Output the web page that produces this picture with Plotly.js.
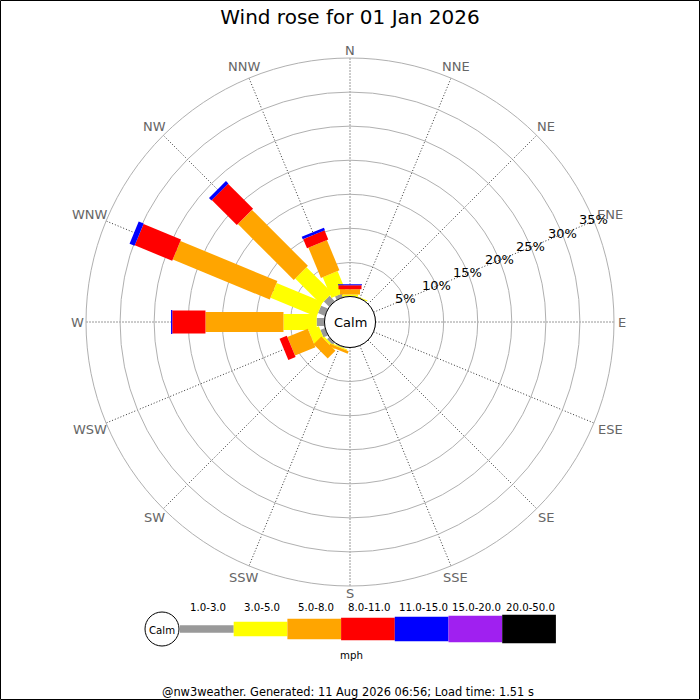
<!DOCTYPE html>
<html>
<head>
<meta charset="utf-8">
<script src="https://cdn.plot.ly/plotly-3.0.1.min.js"></script>
<style>
  html, body { margin: 0; padding: 0; background: #fff; }
  #rose { width: 700px; height: 700px; }
</style>
</head>
<body>
<div id="rose"></div>
<script>
// compass points, clockwise from north
const directions = ["N", "NNE", "NE", "ENE", "E", "ESE", "SE", "SSE",
                    "S", "SSW", "SW", "WSW", "W", "WNW", "NW", "NNW"];
const speedBins = ["1.0-3.0", "3.0-5.0", "5.0-8.0", "8.0-11.0", "11.0-15.0", "15.0-20.0", "20.0-50.0"];
const ringTicks = [5, 10, 15, 20, 25, 30, 35];
const ringLabels = ["5%", "10%", "15%", "20%", "25%", "30%", "35%"];

// % of time per direction, one array per speed bin (mph)
const pct1to3   = [0, 0, 0, 0, 0, 0, 0, 0, 0, 0.15, 0.45, 0.73, 1.14, 1.1, 1.1, 0.57];
const pct3to5   = [0.29, 0.15, 0, 0, 0, 0, 0, 0, 0, 0.15, 0.3, 1.62, 4.88, 7.3, 5.36, 3.3];
const pct5to8   = [0.76, 0, 0, 0, 0, 0, 0, 0, 0, 0.4, 1.6, 3.25, 11.45, 15.4, 11.6, 4.8];
const pct8to11  = [0.59, 0, 0, 0, 0, 0, 0, 0, 0, 0, 0, 1.15, 4.87, 5.95, 5.2, 1.45];
const pct11to15 = [0.17, 0, 0, 0, 0, 0, 0, 0, 0, 0, 0, 0, 0.18, 0.8, 0.5, 0.4];
const pct15to20 = [0, 0, 0, 0, 0, 0, 0, 0, 0, 0, 0, 0, 0, 0, 0, 0];
const pct20to50 = [0, 0, 0, 0, 0, 0, 0, 0, 0, 0, 0, 0, 0, 0, 0, 0];

const binData = [pct1to3, pct3to5, pct5to8, pct8to11, pct11to15, pct15to20, pct20to50];
const colours = ["#999999", "#ffff00", "#ffa500", "#ff0000", "#0000ff", "#a020f0", "#000000"];
const barWidths = [8, 16, 20, 23, 24, 26, 28];
const thetas = directions.map((d, i) => i * 22.5);

// stacked segments drawn as thick radial lines (constant pixel width)
const base = directions.map(() => 0);
const traces = binData.map((vals, b) => {
  const r = [], theta = [];
  vals.forEach((v, i) => {
    if (v > 0) {
      r.push(base[i], base[i] + v, null);
      theta.push(thetas[i], thetas[i], null);
    }
    base[i] += v;
  });
  return {
    type: 'scatterpolar', mode: 'lines', r: r, theta: theta,
    line: { color: colours[b], width: barWidths[b] },
    connectgaps: false, hoverinfo: 'skip', showlegend: false
  };
});

// plot area in pixels: 86..614 wide, 58..586 high
const L = 86, T = 58, S = 528;
const CX = 350, CY = 322, R = S / 2;
const px = x => (x - L) / S;
const py = y => (T + S - y) / S;
const calmR = 25.5;

function label(text, x, y, size, color) {
  return { text: text, x: px(x), y: py(y), xref: 'paper', yref: 'paper',
           xanchor: 'center', yanchor: 'middle', showarrow: false,
           font: { size: size, color: color || '#000' } };
}

const shapes = [
  { type: 'circle', xref: 'paper', yref: 'paper',
    x0: px(CX - calmR), x1: px(CX + calmR), y0: py(CY + calmR), y1: py(CY - calmR),
    line: { color: '#000', width: 1 }, fillcolor: '#fff' },
  // legend calm circle
  { type: 'circle', xref: 'paper', yref: 'paper',
    x0: px(145), x1: px(179), y0: py(646), y1: py(612),
    line: { color: '#000', width: 1 }, fillcolor: '#fff' },
  // frame
  { type: 'rect', xref: 'paper', yref: 'paper',
    x0: px(0.5), x1: px(699.5), y0: py(699.5), y1: py(0.5),
    line: { color: '#000', width: 1 } }
];
const legendHeights = [7.7, 14.3, 20.3, 22.7, 24.3, 26.3, 28.3];
const annotations = [
  label('Calm', CX, CY, 13),
  label('Calm', 162, 630, 10.2),
  label('mph', 351, 655, 10.2),
  label('@nw3weather. Generated: 11 Aug 2026 06:56; Load time: 1.51 s', 348, 692, 11.4)
];
speedBins.forEach((bin, b) => {
  const x0 = 180 + b * 53.7, x1 = x0 + 53.7, h = legendHeights[b];
  shapes.push({ type: 'rect', xref: 'paper', yref: 'paper',
    x0: px(x0), x1: px(x1), y0: py(629 + h / 2), y1: py(629 - h / 2),
    line: { width: 0 }, fillcolor: colours[b] });
  annotations.push(label(bin, (x0 + x1) / 2 + 1.5, 607, 10.2));
});

// compass labels just outside the outer ring
directions.forEach((d, i) => {
  const a = thetas[i] * Math.PI / 180;
  const sx = Math.sin(a), cy = Math.cos(a);
  const off = 267.5 + 4.6 * d.length * Math.abs(sx) + 4 * Math.abs(cy);
  annotations.push(label(d, CX + off * sx, CY - off * cy, 13, '#666'));
});
// ring labels along the ENE spoke
const ringAngle = 22.5 * Math.PI / 180;
ringTicks.forEach((v, i) => {
  const rr = calmR + v / 35 * (R - calmR);
  annotations.push(label(ringLabels[i], CX + rr * Math.cos(ringAngle), CY - rr * Math.sin(ringAngle) - 1, 13));
});

Plotly.newPlot('rose', traces, {
  width: 700, height: 700,
  margin: { l: L, r: 700 - L - S, t: T, b: 700 - T - S },
  paper_bgcolor: '#fff',
  font: { family: 'DejaVu Sans, sans-serif', color: '#000' },
  title: { text: 'Wind rose for 01 Jan 2026', font: { size: 20, color: '#000' },
           x: 0.5, xanchor: 'center', y: 1 - 17 / 700, yanchor: 'middle', yref: 'container' },
  polar: {
    domain: { x: [0, 1], y: [0, 1] },
    hole: calmR / R,
    bgcolor: '#fff',
    radialaxis: {
      range: [0, 35], tickmode: 'array', tickvals: ringTicks,
      showticklabels: false, showline: false, ticks: '',
      gridcolor: '#b0b0b0', gridwidth: 1
    },
    angularaxis: {
      direction: 'clockwise', rotation: 90, thetaunit: 'degrees',
      tickmode: 'array', tickvals: thetas, ticktext: directions, ticks: '',
      showticklabels: false,
      showline: true, linecolor: '#b0b0b0', linewidth: 1,
      gridcolor: '#333', griddash: '1px,2px', gridwidth: 1
    }
  },
  shapes: shapes,
  annotations: annotations
}, { staticPlot: true });
</script>
</body>
</html>
